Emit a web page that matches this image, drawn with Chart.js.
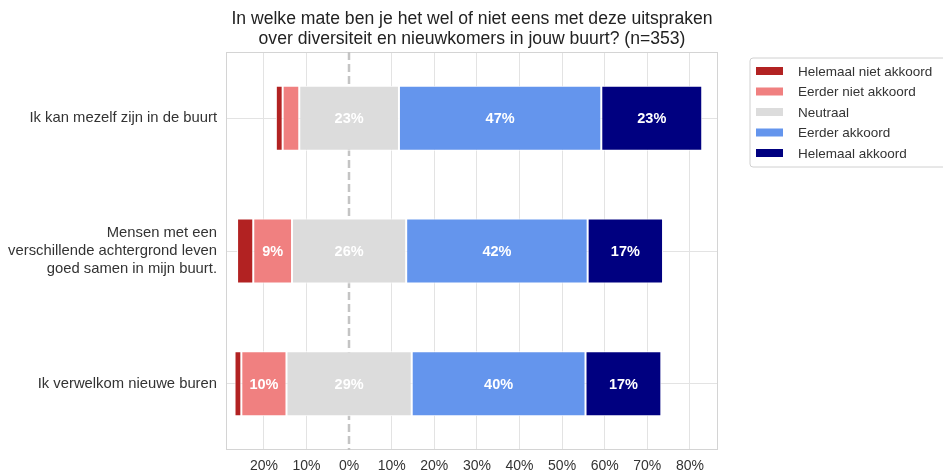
<!DOCTYPE html>
<html>
<head>
<meta charset="utf-8">
<script src="https://cdn.jsdelivr.net/npm/chart.js@4/dist/chart.umd.min.js"></script>
<style>
html,body{margin:0;padding:0;background:#fff;}
#wrap{position:relative;width:943px;height:473px;}
</style>
</head>
<body>
<div id="wrap"><canvas id="c" width="943" height="473"></canvas></div>
<script>
const titleLines = ["In welke mate ben je het wel of niet eens met deze uitspraken", "over diversiteit en nieuwkomers in jouw buurt? (n=353)"];
const categories = [
  ["Ik kan mezelf zijn in de buurt"],
  ["Mensen met een", "verschillende achtergrond leven", "goed samen in mijn buurt."],
  ["Ik verwelkom nieuwe buren"]
];
const seriesNames = ["Helemaal niet akkoord", "Eerder niet akkoord", "Neutraal", "Eerder akkoord", "Helemaal akkoord"];
const seriesColors = ["#b22222", "#f08080", "#dcdcdc", "#6495ed", "#000080"];
const helemaalNiet = [1.6, 3.8, 1.6];
const eerderNiet = [3.9, 9.1, 10.6];
const neutraal = [23.4, 26.8, 29.4];
const eerderAkkoord = [47.5, 42.6, 40.8];
const helemaalAkkoord = [23.7, 17.7, 17.8];
const xTicks = [-20, -10, 0, 10, 20, 30, 40, 50, 60, 70, 80];
const xMin = -28.9, xMax = 86.6;

// build floating (diverging) ranges from the values
const rangesHN = [], rangesEN = [], rangesN = [], rangesEA = [], rangesHA = [];
for (let i = 0; i < categories.length; i++) {
  const h = neutraal[i] / 2;
  rangesN.push([-h, h]);
  rangesEN.push([-h - eerderNiet[i], -h]);
  rangesHN.push([-h - eerderNiet[i] - helemaalNiet[i], -h - eerderNiet[i]]);
  rangesEA.push([h, h + eerderAkkoord[i]]);
  rangesHA.push([h + eerderAkkoord[i], h + eerderAkkoord[i] + helemaalAkkoord[i]]);
}
const allRanges = [rangesHN, rangesEN, rangesN, rangesEA, rangesHA];
const allValues = [helemaalNiet, eerderNiet, neutraal, eerderAkkoord, helemaalAkkoord];

const FONT = "'Liberation Sans', Arial, sans-serif";

const datasets = seriesNames.map((name, k) => ({
  label: name,
  data: allRanges[k],
  rawValues: allValues[k],
  backgroundColor: seriesColors[k],
  borderColor: '#ffffff',
  borderWidth: 1,
  borderSkipped: false,
  grouped: false,
  barPercentage: 0.49,
  categoryPercentage: 1.0
}));

const decor = {
  id: 'decor',
  beforeDatasetsDraw(chart) {
    const {ctx, chartArea: a, scales} = chart;
    ctx.save();
    ctx.strokeStyle = '#d4d4d4';
    ctx.lineWidth = 1;
    ctx.strokeRect(a.left + 0.5, a.top + 0.5, a.right - a.left - 1, a.bottom - a.top - 1);
    const x0 = Math.round(scales.x.getPixelForValue(0));
    ctx.strokeStyle = '#c4c4c4';
    ctx.lineWidth = 2.5;
    ctx.setLineDash([8, 4]);
    ctx.beginPath();
    ctx.moveTo(x0, a.top);
    ctx.lineTo(x0, a.bottom);
    ctx.stroke();
    ctx.restore();
  },
  afterDatasetsDraw(chart) {
    const {ctx} = chart;
    ctx.save();
    ctx.font = "bold 14.5px " + FONT;
    ctx.fillStyle = '#ffffff';
    ctx.textAlign = 'center';
    ctx.textBaseline = 'middle';
    chart.data.datasets.forEach((ds, k) => {
      const meta = chart.getDatasetMeta(k);
      meta.data.forEach((el, i) => {
        const v = ds.rawValues[i];
        if (v >= 5) {
          ctx.fillText(Math.floor(v) + '%', (el.x + el.base) / 2, el.y + 1);
        }
      });
    });
    ctx.restore();
  },
  afterDraw(chart) {
    const {ctx} = chart;
    ctx.save();
    // title
    ctx.font = "17.6px " + FONT;
    ctx.fillStyle = '#222';
    ctx.textAlign = 'center';
    ctx.textBaseline = 'middle';
    ctx.fillText(titleLines[0], 472, 19);
    ctx.fillText(titleLines[1], 472, 39);
    // legend
    const lx = 750, ly = 58, lw = 200, lh = 109, r = 3;
    ctx.beginPath();
    ctx.moveTo(lx + r, ly);
    ctx.lineTo(lx + lw - r, ly);
    ctx.arcTo(lx + lw, ly, lx + lw, ly + r, r);
    ctx.lineTo(lx + lw, ly + lh - r);
    ctx.arcTo(lx + lw, ly + lh, lx + lw - r, ly + lh, r);
    ctx.lineTo(lx + r, ly + lh);
    ctx.arcTo(lx, ly + lh, lx, ly + lh - r, r);
    ctx.lineTo(lx, ly + r);
    ctx.arcTo(lx, ly, lx + r, ly, r);
    ctx.closePath();
    ctx.fillStyle = '#fff';
    ctx.fill();
    ctx.strokeStyle = '#d0d0d0';
    ctx.lineWidth = 1;
    ctx.stroke();
    ctx.font = "13.5px " + FONT;
    ctx.textAlign = 'left';
    chart.data.datasets.forEach((ds, k) => {
      const cy = 71 + k * 20.5;
      ctx.fillStyle = ds.backgroundColor;
      ctx.fillRect(756, cy - 4, 27, 8);
      ctx.fillStyle = '#333';
      ctx.fillText(ds.label, 798, cy + 1);
    });
    ctx.restore();
  }
};

new Chart(document.getElementById('c'), {
  type: 'bar',
  data: { labels: categories, datasets },
  options: {
    indexAxis: 'y',
    responsive: false,
    animation: false,
    layout: { padding: { top: 52, right: 225, left: 0, bottom: 0 } },
    plugins: { legend: { display: false }, title: { display: false }, tooltip: { enabled: false } },
    scales: {
      x: {
        type: 'linear',
        min: xMin,
        max: xMax,
        afterBuildTicks: (s) => { s.ticks = xTicks.map(v => ({ value: v })); },
        afterFit: (s) => { s.height = 23; },
        grid: {
          color: (c) => (c.tick && c.tick.value === 0) ? 'rgba(0,0,0,0)' : '#e3e3e3',
          drawTicks: false,
          lineWidth: 1
        },
        border: { display: false },
        ticks: {
          callback: (v) => Math.abs(v) + '%',
          font: { family: FONT, size: 14 },
          color: '#333',
          padding: 8,
          maxRotation: 0,
          autoSkip: false
        }
      },
      y: {
        afterFit: (s) => { s.width = 226; },
        grid: { offset: false, color: '#e3e3e3', drawTicks: false, lineWidth: 1 },
        border: { display: false },
        ticks: {
          font: { family: FONT, size: 14.8, lineHeight: 1.24 },
          color: '#333',
          padding: 9,
          autoSkip: false
        }
      }
    }
  },
  plugins: [decor]
});
</script>
</body>
</html>
